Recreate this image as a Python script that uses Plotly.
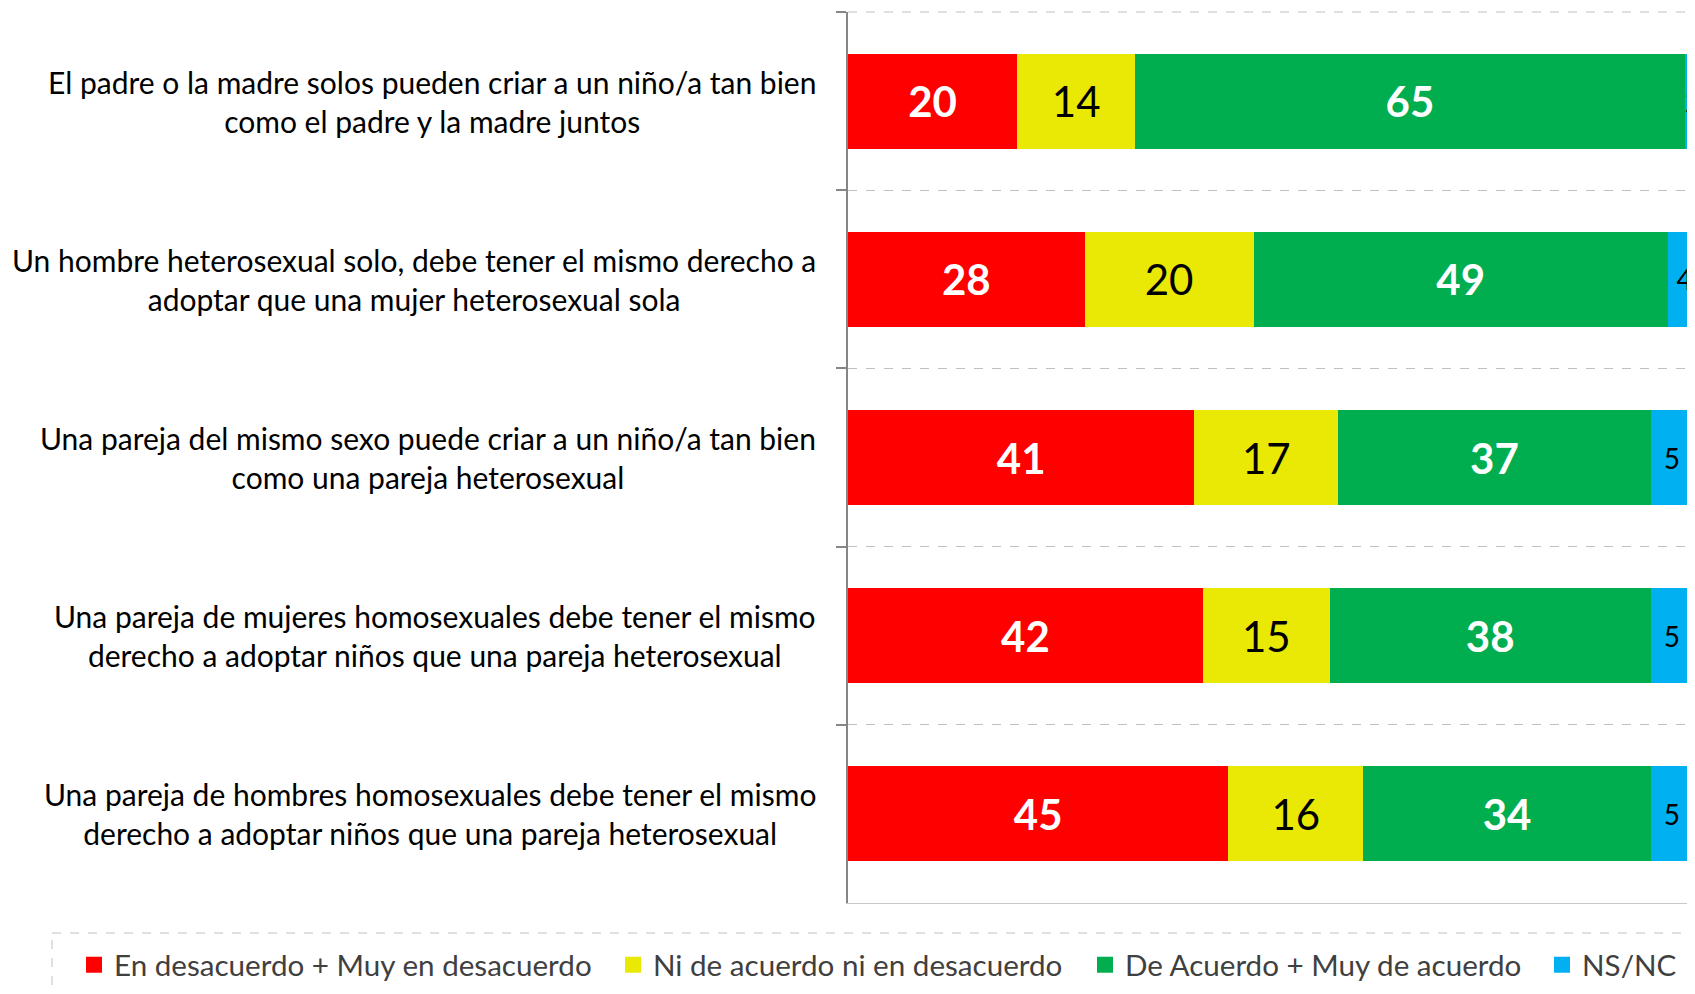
import plotly.graph_objects as go

categories = [
    "El padre o la madre solos pueden criar a un niño/a tan bien<br>como el padre y la madre juntos",
    "Un hombre heterosexual solo, debe tener el mismo derecho a<br>adoptar que una mujer heterosexual sola",
    "Una pareja del mismo sexo puede criar a un niño/a tan bien<br>como una pareja heterosexual",
    "Una pareja de mujeres homosexuales debe tener el mismo<br>derecho a adoptar niños que una pareja heterosexual",
    "Una pareja de hombres homosexuales debe tener el mismo<br>derecho a adoptar niños que una pareja heterosexual",
]
series_names = [
    "En desacuerdo + Muy en desacuerdo",
    "Ni de acuerdo ni en desacuerdo",
    "De Acuerdo + Muy de acuerdo",
    "NS/NC",
]
desacuerdo = [20, 28, 41, 42, 45]
ni_ni = [14, 20, 17, 15, 16]
acuerdo = [65, 49, 37, 38, 34]
nsnc = [2, 4, 5, 5, 5]

series_values = [desacuerdo, ni_ni, acuerdo, nsnc]
colors = ["#FF0000", "#E9E905", "#00AE4F", "#00B0F0"]
text_fonts = [
    dict(family="Lato", size=42, color="white", weight="bold"),
    dict(family="Lato", size=42, color="black"),
    dict(family="Lato", size=42, color="white", weight="bold"),
    dict(family="Lato", size=28, color="black"),
]

ycats = [c.replace("<br>", " ") for c in categories]

# page body margin offset (8px) -> work in page pixels, convert to figure pixels
OFF = 8
PAGE_W, PAGE_H = 1695, 994
W = PAGE_W - OFF
H = PAGE_H - 2 * OFF
L = 848 - OFF
T = 12 - OFF
R = 0
B = H - (903 - OFF)
pw = W - L - R
ph = H - T - B


def px_x(p):
    return (p - OFF - L) / pw


def px_y(p):
    return (H - B - (p - OFF)) / ph


def cx(p):
    return (p - OFF) / W


def cy(p):
    return 1 - (p - OFF) / H


fig = go.Figure()
legend_ids = ["legend", "legend2", "legend3", "legend4"]
for i, (name, vals) in enumerate(zip(series_names, series_values)):
    fig.add_trace(go.Bar(
        name=name,
        y=ycats,
        x=vals,
        orientation="h",
        marker=dict(color=colors[i], line=dict(width=0)),
        text=[str(v) for v in vals],
        textposition="inside",
        insidetextanchor="middle",
        textangle=0,
        constraintext="none",
        textfont=text_fonts[i],
        showlegend=False,
        hoverinfo="skip",
    ))
    # legend entry with a larger square symbol
    fig.add_trace(go.Scatter(
        name=name, x=[None], y=[None], mode="markers",
        marker=dict(symbol="square", size=18, color=colors[i]),
        legend=legend_ids[i], showlegend=True, hoverinfo="skip",
    ))

annotations = []
for cat, yc in zip(categories, ycats):
    annotations.append(dict(
        text=cat, xref="paper", yref="y", x=px_x(818), y=yc,
        xanchor="right", yanchor="middle", align="center", showarrow=False,
        font=dict(family="Lato", size=30, color="black"),
    ))

legend_text_starts = [114, 653, 1125, 1582]
legend_layouts = {}
for lid, ts in zip(legend_ids, legend_text_starts):
    legend_layouts[lid] = dict(
        xref="container", yref="container",
        x=cx(ts - 40), y=cy(965), xanchor="left", yanchor="middle",
        orientation="h", bgcolor="rgba(0,0,0,0)", borderwidth=0,
        itemsizing="trace",
        font=dict(family="Lato", size=29.6, color="#404040"),
    )

fig.update_layout(
    width=W, height=H,
    margin=dict(l=L, r=R, t=T, b=B, pad=0, autoexpand=False),
    plot_bgcolor="white", paper_bgcolor="white",
    barmode="stack", bargap=0.467,
    showlegend=True,
    annotations=annotations,
    font=dict(family="Lato"),
    xaxis=dict(range=[0, (PAGE_W - 848) / 8.45], showticklabels=False, showgrid=False,
               zeroline=False, showline=True, linecolor="#c8c8c8", linewidth=1, ticks="",
               fixedrange=True),
    yaxis=dict(type="category", categoryorder="array", categoryarray=ycats,
               autorange="reversed", showticklabels=False, tickson="boundaries",
               ticks="outside", ticklen=10, tickwidth=2, tickcolor="#868686",
               showline=True, linecolor="#868686", linewidth=2,
               showgrid=True, gridcolor="#c0c0c0", griddash="dash", gridwidth=1,
               zeroline=False),
    shapes=[
        dict(type="rect", xref="paper", yref="paper",
             x0=px_x(52), x1=px_x(1690), y0=px_y(933), y1=px_y(1040),
             line=dict(color="#c0c0c0", width=1, dash="dash"), fillcolor="rgba(0,0,0,0)"),
        dict(type="line", xref="paper", yref="paper", x0=0, x1=1, y0=1, y1=1,
             line=dict(color="#c0c0c0", width=1, dash="dash"), layer="below"),
    ],
    **legend_layouts,
)

fig.write_html("out.html")
